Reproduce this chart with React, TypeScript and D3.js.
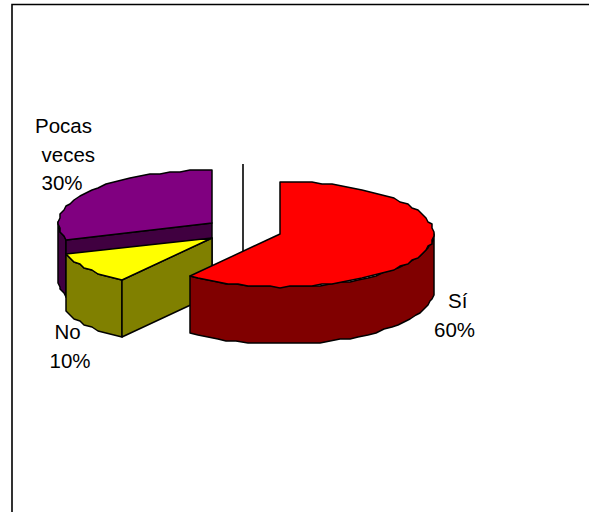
import React from "react";
import * as d3 from "d3";

const categories = ["Sí", "No", "Pocas veces"];
const shares = [60, 10, 30];
const topColors = ["#ff0000", "#ffff00", "#800080"];
const sideColors = ["#800000", "#808000", "#400040"];
const labelLines = ["Sí", "60%", "No", "10%", "Pocas", "veces", "30%"];
const labelX = [448, 434, 54.5, 49.5, 35, 41.5, 41.5];
const labelBaseline = [308, 337, 339, 368, 133, 162, 190];
const sliceCentres = [[280, 234], [212, 238], [212, 223]];

const RX = 153.5;
const RY = 53;
const DEPTH = 57;

type Pt = [number, number];

const slices = d3.pie<number>().sort(null)(shares);
const line = d3.line<Pt>();

// Projects a pie angle onto the tilted ellipse; outlines sit on a coarse 2px grid,
// which gives the curved edges their slightly stepped look.
const snap = (v: number) => Math.round(v / 2) * 2;
const project = (c: number[], a: number, dy = 0): Pt => [
  snap(c[0] + RX * Math.sin(a)),
  snap(c[1] - RY * Math.cos(a)) + dy,
];

const arcPoints = (c: number[], a0: number, a1: number, dy = 0): Pt[] => {
  const n = Math.max(2, Math.ceil(Math.abs(a1 - a0) / 0.07));
  return d3.range(n + 1).map((i) => project(c, a0 + ((a1 - a0) * i) / n, dy));
};

const closed = (pts: Pt[]) => line(pts) + "Z";

function Face({ pts, fill }: { pts: Pt[]; fill: string }) {
  return <path d={closed(pts)} fill={fill} stroke="#000" strokeWidth={1.5} strokeLinejoin="round" />;
}

// Rim of a slice between two angles, extruded downwards.
const rim = (c: number[], a0: number, a1: number): Pt[] => [
  ...arcPoints(c, a0, a1),
  ...arcPoints(c, a1, a0, DEPTH),
];

// Flat cut from the slice centre to its edge, extruded downwards.
const cut = (c: number[], a: number): Pt[] => {
  const apex: Pt = [c[0], c[1]];
  const edge = project(c, a);
  return [apex, edge, [edge[0], edge[1] + DEPTH], [apex[0], apex[1] + DEPTH]];
};

export default function App() {
  const [red, yellow, purple] = slices;
  const cR = sliceCentres[0];
  const cY = sliceCentres[1];
  const cP = sliceCentres[2];
  const font = "'Liberation Sans', Arial, sans-serif";
  return (
    <svg
      width={589}
      height={512}
      style={{ position: "absolute", left: 0, top: 0, background: "#fff" }}
      role="img"
      aria-label={categories.join(", ")}
    >
      {/* chart frame: only the top and left edges fall inside the page */}
      <path d="M12 512V4.5H589" fill="none" stroke="#000" strokeWidth={1.6} />

      {/* leader line standing behind the front slice */}
      <line x1={243} x2={243} y1={164} y2={252} stroke="#000" strokeWidth={1.6} />

      {/* purple slice, back of the pie */}
      <Face pts={rim(cP, purple.startAngle, Math.PI * 1.5 + 0.02)} fill={sideColors[2]} />
      <Face pts={cut(cP, purple.startAngle)} fill={sideColors[2]} />
      <Face pts={[[cP[0], cP[1]], ...arcPoints(cP, purple.startAngle, purple.endAngle)]} fill={topColors[2]} />

      {/* yellow slice */}
      <Face pts={rim(cY, yellow.startAngle, yellow.endAngle)} fill={sideColors[1]} />
      <Face pts={cut(cY, yellow.startAngle)} fill={sideColors[1]} />
      <Face pts={[[cY[0], cY[1]], ...arcPoints(cY, yellow.startAngle, yellow.endAngle)]} fill={topColors[1]} />

      {/* red slice, drawn last because it sits in front */}
      <Face pts={rim(cR, Math.PI / 2, red.endAngle)} fill={sideColors[0]} />
      <Face pts={[[cR[0], cR[1]], ...arcPoints(cR, red.startAngle, red.endAngle)]} fill={topColors[0]} />

      {labelLines.map((t, i) => (
        <text key={t} x={labelX[i]} y={labelBaseline[i]} fontFamily={font} fontSize={20.5} fill="#000">
          {t}
        </text>
      ))}
    </svg>
  );
}
